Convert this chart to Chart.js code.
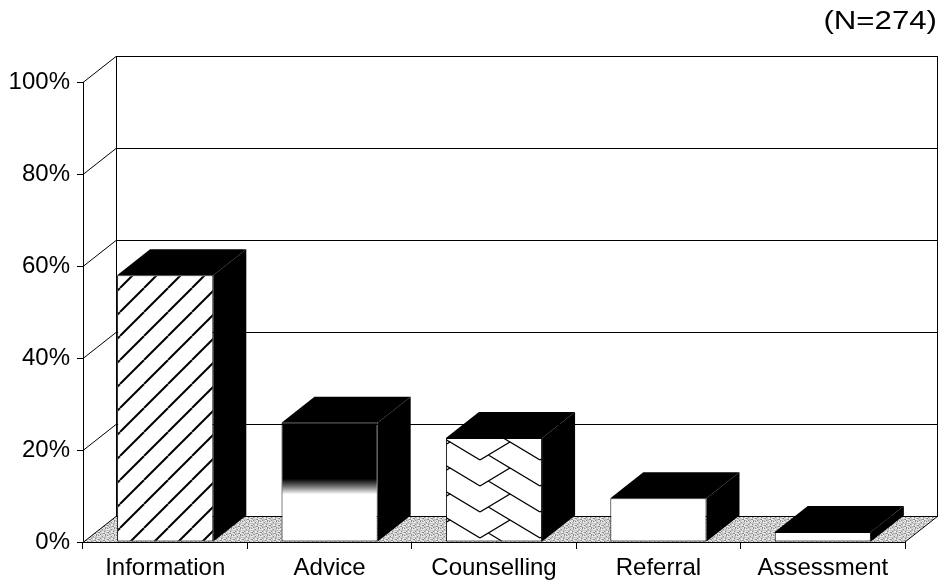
<!DOCTYPE html>
<html>
<head>
<meta charset="utf-8">
<style>
  html, body { margin: 0; padding: 0; background: #fff; }
  #wrap { width: 941px; height: 582px; }
</style>
<script src="https://cdn.jsdelivr.net/npm/chart.js@4.4.1/dist/chart.umd.min.js"></script>
</head>
<body>
<div id="wrap"><canvas id="c" width="941" height="582"></canvas></div>
<script>
// Service types and share of respondents receiving each
const categories = ['Information', 'Advice', 'Counselling', 'Referral', 'Assessment'];
const percentages = [58.0, 25.9, 22.6, 9.5, 2.2];
const yTicks = [0, 20, 40, 60, 80, 100];
const sampleNote = '(N=274)';

// Depth of the 3D box (horizontal and vertical offset of the back plane)
const DEPTH_X = 33;
const DEPTH_Y = -26;
const FONT = '"Liberation Sans", Arial, sans-serif';

// ---------- fill patterns ----------
function makeTile(w, h, draw) {
  const c = document.createElement('canvas');
  c.width = w; c.height = h;
  const g = c.getContext('2d');
  g.fillStyle = '#fff';
  g.fillRect(0, 0, w, h);
  draw(g, w, h);
  return c;
}

// diagonal hatching
const hatchTile = makeTile(24, 24, (g, w, h) => {
  g.strokeStyle = '#000';
  g.lineWidth = 2;
  for (const o of [-w, 0, w]) {
    g.beginPath();
    g.moveTo(o, h);
    g.lineTo(o + w, 0);
    g.stroke();
  }
});

// herringbone weave: zigzag rows joined by cross strokes
const WEAVE_W = 60, WEAVE_H = 26, WEAVE_AMP = 18;
const weaveTile = makeTile(WEAVE_W, WEAVE_H, (g, w, h) => {
  g.strokeStyle = '#000';
  g.lineWidth = 1.3;
  const half = w / 2, slope = WEAVE_AMP / half;
  const ext = h / (2 * slope);
  for (const oy of [-h, 0, h]) {
    for (const ox of [-w, 0, w]) {
      g.beginPath();
      g.moveTo(ox, oy + WEAVE_AMP); g.lineTo(ox + half, oy); g.lineTo(ox + w, oy + WEAVE_AMP);
      g.moveTo(ox + half, oy + h); g.lineTo(ox + half - ext, oy + h - ext * slope);
      g.stroke();
    }
  }
});

// stippled grey floor texture
const stippleTile = (() => {
  const c = document.createElement('canvas');
  c.width = 9; c.height = 7;
  const g = c.getContext('2d');
  const img = g.createImageData(9, 7);
  for (let j = 0; j < 7; j++) {
    for (let i = 0; i < 9; i++) {
      const k = (i * 7 + j * 5 + i * j * 3) % 11;
      const v = k < 2 ? 140 : (k < 6 ? 195 : 232);
      const p = (j * 9 + i) * 4;
      img.data[p] = img.data[p + 1] = img.data[p + 2] = v;
      img.data[p + 3] = 255;
    }
  }
  g.putImageData(img, 0, 0);
  return c;
})();

const canvas = document.getElementById('c');
const ctx2d = canvas.getContext('2d');
const hatchFill = ctx2d.createPattern(hatchTile, 'repeat');
const weaveFill = ctx2d.createPattern(weaveTile, 'repeat');
const floorFill = ctx2d.createPattern(stippleTile, 'repeat');

function frontFill(c) {
  const i = c.dataIndex;
  if (i === 0) return hatchFill;
  if (i === 2) return weaveFill;
  if (i === 1) {
    const ys = c.chart.scales.y;
    if (!ys || !c.chart.chartArea) return '#fff';
    const t = ys.getPixelForValue(percentages[1]);
    const b = ys.getPixelForValue(0);
    const g = c.chart.ctx.createLinearGradient(0, t, 0, b);
    g.addColorStop(0, '#000');
    g.addColorStop(0.47, '#000');
    g.addColorStop(0.53, '#6a6a6a');
    g.addColorStop(0.6, '#fff');
    g.addColorStop(1, '#fff');
    return g;
  }
  return '#fff';
}

// ---------- walls, floor and bar depth ----------
const box3d = {
  id: 'box3d',
  beforeDatasetsDraw(chart) {
    const { ctx, chartArea: a, scales: { y } } = chart;
    const L = a.left, R = a.right, B = a.bottom, T = a.top;
    ctx.save();
    ctx.lineWidth = 1;
    ctx.strokeStyle = '#000';

    // back wall
    ctx.fillStyle = '#fff';
    ctx.fillRect(L + DEPTH_X, T + DEPTH_Y, R - L, B - T);

    // floor
    ctx.fillStyle = floorFill;
    ctx.beginPath();
    ctx.moveTo(L, B); ctx.lineTo(R, B);
    ctx.lineTo(R + DEPTH_X, B + DEPTH_Y); ctx.lineTo(L + DEPTH_X, B + DEPTH_Y);
    ctx.closePath();
    ctx.fill();

    ctx.beginPath();
    for (const v of yTicks) {
      const py = Math.round(y.getPixelForValue(v)) + 0.5;
      // gridline on the back wall
      ctx.moveTo(L + DEPTH_X, py + DEPTH_Y);
      ctx.lineTo(R + DEPTH_X, py + DEPTH_Y);
      // gridline on the side wall
      ctx.moveTo(L, py);
      ctx.lineTo(L + DEPTH_X, py + DEPTH_Y);
    }
    ctx.moveTo(L + DEPTH_X + 0.5, T + DEPTH_Y);
    ctx.lineTo(L + DEPTH_X + 0.5, B + DEPTH_Y);
    ctx.moveTo(R + DEPTH_X - 0.5, T + DEPTH_Y);
    ctx.lineTo(R + DEPTH_X - 0.5, B + DEPTH_Y);
    ctx.moveTo(R, B);
    ctx.lineTo(R + DEPTH_X, B + DEPTH_Y);
    ctx.stroke();

    // side and top faces of every column
    const meta = chart.getDatasetMeta(0);
    ctx.fillStyle = '#000';
    meta.data.forEach(el => {
      const p = el.getProps(['x', 'y', 'base', 'width'], true);
      const l = p.x - p.width / 2, r = p.x + p.width / 2;
      ctx.beginPath();
      ctx.moveTo(r, p.y);
      ctx.lineTo(r + DEPTH_X, p.y + DEPTH_Y);
      ctx.lineTo(r + DEPTH_X, p.base + DEPTH_Y);
      ctx.lineTo(r, p.base);
      ctx.closePath();
      ctx.fill();
      ctx.beginPath();
      ctx.moveTo(l, p.y);
      ctx.lineTo(r, p.y);
      ctx.lineTo(r + DEPTH_X, p.y + DEPTH_Y);
      ctx.lineTo(l + DEPTH_X, p.y + DEPTH_Y);
      ctx.closePath();
      ctx.fill();
    });
    ctx.restore();
  },
  afterDraw(chart) {
    const ctx = chart.ctx;
    ctx.save();
    ctx.fillStyle = '#000';
    ctx.font = '26px ' + FONT;
    ctx.textAlign = 'right';
    ctx.textBaseline = 'alphabetic';
    ctx.translate(937, 29);
    ctx.scale(1.2, 1);
    ctx.fillText(sampleNote, 0, 0);
    ctx.restore();
  }
};

new Chart(canvas, {
  type: 'bar',
  data: {
    labels: categories,
    datasets: [{
      data: percentages,
      backgroundColor: frontFill,
      borderColor: '#000',
      borderWidth: 1,
      borderSkipped: false,
      barPercentage: 0.585,
      categoryPercentage: 1.0
    }]
  },
  options: {
    responsive: false,
    animation: false,
    events: [],
    layout: { padding: { top: 82, right: 36, left: 0, bottom: 0 } },
    plugins: { legend: { display: false }, tooltip: { enabled: false }, title: { display: false } },
    scales: {
      x: {
        grid: { drawOnChartArea: false, drawTicks: true, tickLength: 7, color: '#000', offset: true },
        border: { display: true, color: '#000', width: 1 },
        ticks: { color: '#000', font: { family: FONT, size: 24 }, padding: 5, maxRotation: 0, autoSkip: false },
        afterFit(s) { s.height = 40; }
      },
      y: {
        min: 0,
        max: 100,
        grid: { drawOnChartArea: false, drawTicks: true, tickLength: 6, color: '#000' },
        border: { display: true, color: '#000', width: 1 },
        ticks: { color: '#000', font: { family: FONT, size: 24 }, padding: 7, callback: v => v + '%' },
        afterBuildTicks(s) { s.ticks = yTicks.map(v => ({ value: v })); },
        afterFit(s) { s.width = 83; }
      }
    }
  },
  plugins: [box3d]
});
</script>
</body>
</html>
